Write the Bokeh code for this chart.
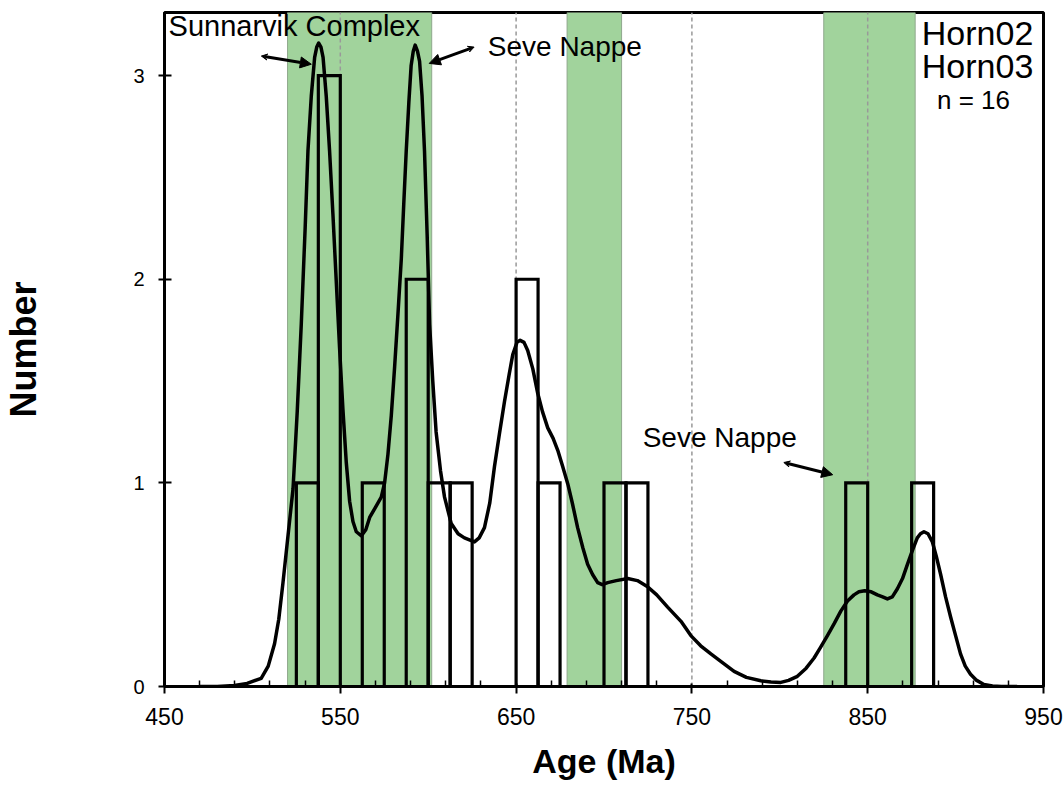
from bokeh.plotting import figure
from bokeh.models import FixedTicker, Arrow, NormalHead, VeeHead, Range1d, Label
from bokeh.embed import file_html
from bokeh.resources import INLINE

# ---- data ----
bin_left = [525, 537.5, 562.5, 587.5, 600, 612.5, 650, 662.5, 700, 712.5, 837.5, 875]
bin_count = [1, 3, 1, 2, 1, 1, 2, 1, 1, 1, 1, 1]
bin_width = 12.5

kde_age = [470, 480, 489.8, 497, 505, 509, 512.6, 515, 517.4, 520, 523.1, 525.5, 527.8, 530, 531.6,
           533.5, 535.4, 536.6, 537.7, 539, 540.2, 542, 543.9, 545.8, 547.7, 549.6, 551.5, 553.4,
           555.3, 557.2, 559.1, 562, 564.5, 566.7, 570, 573.3, 575.2, 577.1, 579, 580.9, 582.8,
           584.7, 586.1, 587.5, 589, 590.3, 591.5, 592.6, 593.9, 595.1, 596.5, 597.9, 599.4,
           600.8, 602.6, 604.5, 607, 609.3, 613.1, 617, 620.6, 626.3, 629, 632, 635, 637.7, 640.5,
           643.4, 646, 648.1, 650.5, 652.3, 654.5, 656.6, 659.5, 662.3, 665, 668, 671, 673.7,
           676.5, 679.4, 682, 685, 688, 690.7, 693.5, 696.4, 699, 702.1, 707, 713.5, 719, 724.8,
           730, 736.2, 743.8, 749.4, 755, 760.8, 767, 774, 781, 789.2, 795, 800.6, 805, 810,
           815, 819.5, 823, 827.1, 831, 834.7, 838.5, 842.2, 845, 848.3, 852, 855.5, 858.5,
           861.2, 864, 866.9, 869.8, 872.6, 875.5, 878.2, 880, 882, 884.3, 886.8, 889, 891.5,
           894.3, 897.2, 900, 902.8, 905.5, 908.5, 912, 916.1, 921, 926, 935]
kde_val = [0.0, 0.0, 0.005, 0.015, 0.04, 0.1, 0.21, 0.33, 0.51, 0.72, 0.97, 1.35, 1.78, 2.25, 2.63,
           2.9, 3.09, 3.14, 3.16, 3.14, 3.09, 2.9, 2.63, 2.32, 1.99, 1.66, 1.36, 1.1,
           0.91, 0.81, 0.76, 0.74, 0.77, 0.83, 0.88, 0.93, 1.0, 1.14, 1.33, 1.57, 1.83,
           2.1, 2.37, 2.63, 2.87, 3.05, 3.12, 3.15, 3.12, 3.07, 2.9, 2.63, 2.22,
           1.78, 1.5, 1.25, 1.06, 0.93, 0.8, 0.75, 0.73, 0.71, 0.73, 0.78, 0.9, 1.08, 1.24,
           1.4, 1.53, 1.63, 1.69, 1.70, 1.69, 1.65, 1.56, 1.44, 1.35, 1.27, 1.22, 1.16,
           1.08, 0.995, 0.9, 0.78, 0.68, 0.6, 0.55, 0.51, 0.5, 0.51, 0.52, 0.53, 0.52, 0.49,
           0.45, 0.39, 0.32, 0.25, 0.2, 0.16, 0.12, 0.074, 0.045, 0.028, 0.022, 0.02, 0.03, 0.05,
           0.09, 0.14, 0.19, 0.25, 0.31, 0.37, 0.42, 0.45, 0.465, 0.47, 0.465, 0.45, 0.44,
           0.43, 0.44, 0.48, 0.53, 0.60, 0.67, 0.73, 0.75, 0.76, 0.75, 0.71, 0.64, 0.55,
           0.44, 0.34, 0.25, 0.16, 0.1, 0.06, 0.03, 0.01, 0.003, 0.0, 0.0]

band_left = [520, 679, 825]
band_right = [602, 710, 877]

grid_ages = [550, 650, 750, 850]

x_ticks = [450, 550, 650, 750, 850, 950]
x_minor = [470, 490, 510, 530, 570, 590, 610, 630, 670, 690, 710, 730, 770, 790, 810, 830,
           870, 890, 910, 930]
y_ticks = [0, 1, 2, 3]

FONT = "Liberation Sans"
Y_TOP = 3.31

p = figure(width=1064, height=787, output_backend="svg", toolbar_location=None,
           x_range=Range1d(450, 950), y_range=Range1d(0, Y_TOP),
           min_border_left=163, min_border_right=21, min_border_top=12, min_border_bottom=101)
p.xgrid.visible = False
p.ygrid.visible = False
p.outline_line_color = "black"
p.outline_line_width = 3
p.background_fill_color = "white"
p.border_fill_color = "white"

# green bands
p.quad(left=band_left, right=band_right, bottom=0, top=Y_TOP,
       fill_color="#a1d39c", line_color="#8fa88c", line_width=1)

# dashed reference lines
p.segment(x0=grid_ages, y0=0, x1=grid_ages, y1=Y_TOP, line_color="#999999",
          line_width=1.5, line_dash="4 3")

# histogram outlines
p.quad(left=bin_left, right=[b + bin_width for b in bin_left], bottom=0, top=bin_count,
       fill_color=None, line_color="black", line_width=3.2, line_join="miter")

# density curve
p.line(kde_age, kde_val, line_color="black", line_width=3.5, line_join="round")

# axes
p.xaxis.ticker = FixedTicker(ticks=x_ticks, minor_ticks=x_minor)
p.yaxis.ticker = FixedTicker(ticks=y_ticks)
for ax in (p.xaxis[0], p.yaxis[0]):
    ax.axis_line_width = 3
    ax.axis_line_color = "black"
    ax.major_tick_line_width = 2
    ax.major_tick_line_color = "black"
    ax.minor_tick_line_width = 1.5
    ax.minor_tick_line_color = "black"
    ax.major_label_text_font = FONT
    ax.major_label_text_color = "black"
    ax.axis_label_text_font = FONT
    ax.axis_label_text_font_style = "bold"
    ax.axis_label_text_color = "black"

p.xaxis.axis_label = "Age (Ma)"
p.xaxis.axis_label_text_font_size = "34px"
p.xaxis.major_label_text_font_size = "23px"
p.xaxis.major_tick_in = 3
p.xaxis.major_tick_out = 7
p.xaxis.minor_tick_in = 6
p.xaxis.minor_tick_out = 0
p.xaxis.major_label_standoff = 14
p.xaxis.axis_label_standoff = 14

p.yaxis.axis_label = "Number"
p.yaxis.axis_label_text_font_size = "36px"
p.yaxis.major_label_text_font_size = "20px"
p.yaxis.major_tick_in = 7
p.yaxis.major_tick_out = 6
p.yaxis.minor_tick_in = 0
p.yaxis.minor_tick_out = 0
p.yaxis.major_label_standoff = 14
p.yaxis.axis_label_standoff = 86

# annotations
def add_text(x, y, t, size, align="left"):
    p.add_layout(Label(x=x, y=y, text=t, text_font=FONT, text_font_size=size,
                       text_color="black", text_align=align, text_baseline="alphabetic"))

add_text(452.3, 3.243, "Sunnarvik Complex", "29px")
add_text(633.9, 3.144, "Seve Nappe", "28px")
add_text(722.0, 1.223, "Seve Nappe", "28px")
add_text(912.5, 3.209, "Horn02", "34px", "center")
add_text(912.5, 3.049, "Horn03", "34px", "center")
add_text(910.2, 2.879, "n = 16", "26px", "center")

for (xs, ys, xe, ye) in [(505.1, 3.096, 533.5, 3.056),
                         (626.1, 3.14, 600.6, 3.06),
                         (802.3, 1.10, 830.1, 1.04)]:
    p.add_layout(Arrow(x_start=xs, y_start=ys, x_end=xe, y_end=ye, line_width=3,
                       line_color="black",
                       end=NormalHead(size=11, fill_color="black", line_color="black", line_width=1),
                       start=VeeHead(size=6, fill_color="black", line_color="black", line_width=1)))

open("out.html", "w").write(file_html(p, INLINE))
